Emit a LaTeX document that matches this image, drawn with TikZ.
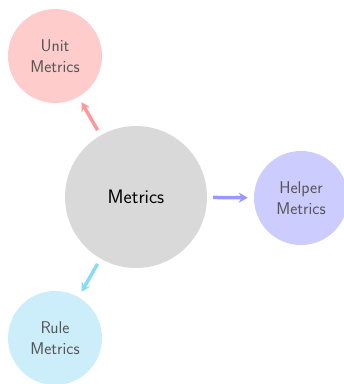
\documentclass[tikz,border=0pt]{standalone}
\usetikzlibrary{arrows.meta}
\definecolor{pinkfill}{HTML}{FFCCCC}
\definecolor{pinkline}{HTML}{FF9999}
\definecolor{bluefill}{HTML}{CCCCFF}
\definecolor{blueline}{HTML}{9999FF}
\definecolor{cyanfill}{HTML}{CCEEFA}
\definecolor{cyanline}{HTML}{88DDF5}
\definecolor{grayfill}{HTML}{D9D9D9}
\definecolor{txt}{HTML}{555555}
\begin{document}
\begin{tikzpicture}[x=1pt,y=-1pt,
  center/.style={circle,fill=grayfill,minimum size=142pt,inner sep=0pt,font=\sffamily\fontsize{19.5}{21}\selectfont},
  leaf/.style={circle,minimum size=94pt,inner sep=0pt,text=txt,align=center,font=\sffamily\fontsize{17}{20.5}\selectfont},
  conn/.style={line width=3.5pt,-{Stealth[length=9pt,width=10pt]}}]
\useasboundingbox (0,0) rectangle (344,384);
\node[center] (m) at (136,197) {Metrics};
\node[leaf,fill=pinkfill] (u) at (55,56) {Unit\\Metrics};
\node[leaf,fill=bluefill] (h) at (301,198) {Helper\\Metrics};
\node[leaf,fill=cyanfill] (r) at (55,338) {Rule\\Metrics};
\draw[conn,pinkline,shorten <=6pt,shorten >=6pt] (m) -- (u);
\draw[conn,blueline,shorten <=6pt,shorten >=6pt] (m) -- (h);
\draw[conn,cyanline,shorten <=6pt,shorten >=6pt] (m) -- (r);
\end{tikzpicture}
\end{document}
